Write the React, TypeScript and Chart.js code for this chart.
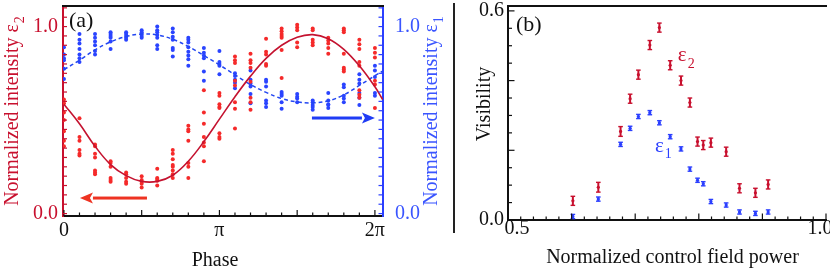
import React, { useEffect, useRef } from 'react';
import { Chart, registerables } from 'chart.js';
Chart.register(...registerables);

const FONT = '"Liberation Serif", "DejaVu Serif", "Times New Roman", serif';

// ---------- Panel (a): normalized intensities vs phase (units of pi) ----------
const phaseSteps = [0, 0.1, 0.2, 0.3, 0.4, 0.5, 0.6, 0.7, 0.8, 0.9, 1.0, 1.1, 1.2, 1.3, 1.4, 1.5, 1.6, 1.7, 1.8, 1.9, 2.0];
const eps2Samples = [
  [0.61, 0.59, 0.54, 0.50, 0.44, 0.39, 0.36],
  [0.51, 0.41, 0.39, 0.34, 0.32, 0.31],
  [0.37, 0.36, 0.32, 0.30, 0.23, 0.22, 0.21],
  [0.28, 0.27, 0.25, 0.19, 0.18, 0.17],
  [0.22, 0.21, 0.19, 0.17, 0.16],
  [0.20, 0.18, 0.17, 0.16, 0.14],
  [0.24, 0.19, 0.185, 0.175, 0.15],
  [0.34, 0.32, 0.29, 0.26, 0.25, 0.23, 0.21, 0.19],
  [0.47, 0.45, 0.44, 0.39, 0.27, 0.25, 0.19],
  [0.66, 0.54, 0.48, 0.41, 0.38, 0.36, 0.28],
  [0.645, 0.63, 0.585, 0.57, 0.565, 0.43, 0.41, 0.40],
  [0.84, 0.82, 0.805, 0.71, 0.685, 0.595, 0.56, 0.455],
  [0.855, 0.82, 0.805, 0.78, 0.705, 0.62, 0.595, 0.555],
  [0.935, 0.865, 0.85, 0.80, 0.79],
  [0.99, 0.975, 0.96, 0.95, 0.94, 0.875, 0.725],
  [1.01, 0.995, 0.98, 0.915, 0.89],
  [0.99, 0.98, 0.93, 0.915, 0.90],
  [0.94, 0.925, 0.91, 0.885, 0.855],
  [0.99, 0.98, 0.97, 0.855, 0.78, 0.77, 0.76],
  [0.93, 0.905, 0.88, 0.81, 0.79, 0.66, 0.635, 0.62],
  [0.885, 0.86, 0.835, 0.71, 0.69, 0.565],
];
const eps1Samples = [
  [0.89, 0.85, 0.83, 0.82, 0.775, 0.72],
  [0.96, 0.93, 0.91, 0.88, 0.85, 0.83, 0.81],
  [0.96, 0.94, 0.92, 0.90, 0.87, 0.85],
  [0.97, 0.96, 0.95, 0.94, 0.92, 0.88],
  [0.97, 0.96, 0.95, 0.94, 0.93],
  [0.98, 0.97, 0.96, 0.95, 0.94],
  [1.00, 0.98, 0.97, 0.955, 0.94, 0.90, 0.88],
  [0.99, 0.97, 0.945, 0.93, 0.885, 0.875, 0.84],
  [0.94, 0.93, 0.915, 0.89, 0.865, 0.845, 0.825, 0.79],
  [0.885, 0.86, 0.845, 0.83, 0.76, 0.71],
  [0.87, 0.81, 0.80, 0.79, 0.745],
  [0.75, 0.735, 0.715, 0.70, 0.67],
  [0.765, 0.715, 0.695, 0.68, 0.64, 0.59],
  [0.715, 0.705, 0.68, 0.605, 0.59, 0.57],
  [0.65, 0.64, 0.63, 0.595, 0.56],
  [0.64, 0.625, 0.615, 0.595],
  [0.605, 0.595, 0.58, 0.57, 0.555],
  [0.645, 0.605, 0.585, 0.58, 0.565],
  [0.69, 0.675, 0.63, 0.615, 0.595],
  [0.745, 0.715, 0.695, 0.645, 0.62, 0.58],
  [0.79, 0.765, 0.73, 0.645, 0.63],
];
const fitPhase = [0, 0.1, 0.2, 0.3, 0.4, 0.5, 0.6, 0.7, 0.8, 0.9, 1.0, 1.1, 1.2, 1.3, 1.4, 1.5, 1.6, 1.7, 1.8, 1.9, 2.0, 2.05];
const eps2Fit = [0.585, 0.48, 0.36, 0.262, 0.203, 0.172, 0.172, 0.205, 0.28, 0.385, 0.505, 0.625, 0.735, 0.83, 0.90, 0.943, 0.957, 0.935, 0.878, 0.79, 0.678, 0.61];
const eps1Fit = [0.77, 0.82, 0.875, 0.918, 0.947, 0.96, 0.955, 0.932, 0.893, 0.845, 0.795, 0.742, 0.69, 0.648, 0.615, 0.597, 0.592, 0.603, 0.635, 0.685, 0.737, 0.762];
const phaseTickValues = [0, 1, 2];
const phaseTickLabels = ['0', 'π', '2π'];
const intensityTickValues = [0, 1];
const intensityTickLabels = ['0.0', '1.0'];
const leftArrow = { fromX: 0.534, toX: 0.103, y: 0.083 };
const rightArrow = { fromX: 1.595, toX: 2.0, y: 0.511 };

// ---------- Panel (b): visibility vs control field power ----------
const controlPower = [0.602, 0.642, 0.677, 0.692, 0.705, 0.723, 0.738, 0.755, 0.772, 0.786, 0.798, 0.807, 0.819, 0.843, 0.864, 0.889, 0.909];
const visEps2 = [0.055, 0.094, 0.254, 0.348, 0.417, 0.502, 0.552, 0.444, 0.40, 0.337, 0.225, 0.215, 0.222, 0.196, 0.091, 0.078, 0.102];
const visEps2Err = [0.013, 0.014, 0.014, 0.013, 0.013, 0.013, 0.013, 0.013, 0.013, 0.013, 0.013, 0.013, 0.013, 0.013, 0.013, 0.013, 0.013];
const visEps1 = [0.010, 0.060, 0.217, 0.263, 0.297, 0.308, 0.279, 0.239, 0.204, 0.146, 0.114, 0.104, 0.053, 0.043, 0.023, 0.019, 0.023];
const visEps1Err = [0.006, 0.006, 0.006, 0.006, 0.006, 0.006, 0.006, 0.006, 0.006, 0.006, 0.006, 0.006, 0.006, 0.006, 0.006, 0.006, 0.006];
const powerTickValues = [0.5, 1.0];
const powerTickLabels = ['0.5', '1.0'];
const visTickValues = [0, 0.6];
const visTickLabels = ['0.0', '0.6'];
const eps2LabelPos = { x: 0.767, y: 0.455 };
const eps1LabelPos = { x: 0.731, y: 0.196 };

const RED_LINE = '#c4122f';
const RED_DOT = '#f52a2a';
const BLUE_LINE = '#2246f2';
const BLUE_DOT = '#2a44ff';
const RED_BAR = '#c8102e';
const BLUE_BAR = '#2b3fff';

function drawSub(ctx: CanvasRenderingContext2D, main: string, sub: string, x: number, y: number, size: number, color: string, align: 'left' | 'center') {
  ctx.save();
  ctx.fillStyle = color;
  ctx.textBaseline = 'alphabetic';
  ctx.textAlign = 'left';
  ctx.font = `${size}px ${FONT}`;
  const w1 = ctx.measureText(main).width;
  const subSize = Math.round(size * 0.68);
  ctx.font = `${subSize}px ${FONT}`;
  const w2 = ctx.measureText(sub).width;
  const total = w1 + 1 + w2;
  const x0 = align === 'left' ? x : x - total / 2;
  ctx.font = `${size}px ${FONT}`;
  ctx.fillText(main, x0, y);
  ctx.font = `${subSize}px ${FONT}`;
  ctx.fillText(sub, x0 + w1 + 1, y + size * 0.3);
  ctx.restore();
}

function line(ctx: CanvasRenderingContext2D, x1: number, y1: number, x2: number, y2: number, color: string, w: number) {
  ctx.save();
  ctx.strokeStyle = color;
  ctx.lineWidth = w;
  ctx.beginPath();
  ctx.moveTo(x1, y1);
  ctx.lineTo(x2, y2);
  ctx.stroke();
  ctx.restore();
}

function arrow(ctx: CanvasRenderingContext2D, x1: number, x2: number, y: number, color: string) {
  const dir = Math.sign(x2 - x1);
  const headLen = 13;
  ctx.save();
  ctx.fillStyle = color;
  ctx.fillRect(Math.min(x1, x2 - dir * headLen), y - 1.5, Math.abs(x2 - dir * headLen - x1), 3);
  ctx.beginPath();
  ctx.moveTo(x2, y);
  ctx.lineTo(x2 - dir * headLen, y - 5.5);
  ctx.lineTo(x2 - dir * (headLen - 3), y);
  ctx.lineTo(x2 - dir * headLen, y + 5.5);
  ctx.closePath();
  ctx.fill();
  ctx.restore();
}

function fixedTicks(values: number[]) {
  return (scale: any) => {
    scale.ticks = values.map((v) => ({ value: v }));
  };
}

function fixSize(size: number) {
  return (s: any) => {
    if (s.isHorizontal()) s.height = size;
    else s.width = size;
    s.paddingTop = 0;
    s.paddingBottom = 0;
    s.paddingLeft = 0;
    s.paddingRight = 0;
  };
}

const panelAPlugin = {
  id: 'panelA',
  afterDraw(chart: any) {
    const { ctx, chartArea: ca, scales } = chart;
    const xs = scales.x, ys = scales.y, ys1 = scales.y1;
    line(ctx, ca.left - 1, ca.top, ca.right + 1, ca.top, '#111', 2);
    for (let k = 0; k <= 20; k++) {
      const px = xs.getPixelForValue(k / 10);
      line(ctx, px, ca.bottom, px, ca.bottom - (k % 5 === 0 ? 6 : 3.5), '#111', 1.2);
    }
    for (let k = 0; k <= 22; k++) {
      const v = k * 0.05;
      if (v > ys.max) break;
      const py = ys.getPixelForValue(v);
      line(ctx, ca.left, py, ca.left + 4, py, RED_BAR, 1.2);
      const py1 = ys1.getPixelForValue(v);
      line(ctx, ca.right, py1, ca.right - 4.5, py1, BLUE_BAR, 1.2);
    }
    arrow(ctx, xs.getPixelForValue(leftArrow.fromX), xs.getPixelForValue(leftArrow.toX), ys.getPixelForValue(leftArrow.y), '#ee3322');
    arrow(ctx, xs.getPixelForValue(rightArrow.fromX), xs.getPixelForValue(rightArrow.toX), ys1.getPixelForValue(rightArrow.y), '#1f3cf5');
    ctx.save();
    ctx.fillStyle = '#111';
    ctx.font = `22px ${FONT}`;
    ctx.textAlign = 'left';
    ctx.textBaseline = 'alphabetic';
    ctx.fillText('(a)', 69, 27);
    ctx.font = `20px ${FONT}`;
    ctx.textAlign = 'center';
    ctx.fillText('Phase', 215, 266);
    ctx.restore();
    const cy = (ca.top + ca.bottom) / 2;
    ctx.save();
    ctx.translate(18, cy);
    ctx.rotate(-Math.PI / 2);
    drawSub(ctx, 'Normalized intensity ε', '2', 0, 0, 20, RED_BAR, 'center');
    ctx.restore();
    ctx.save();
    ctx.translate(437, cy);
    ctx.rotate(-Math.PI / 2);
    drawSub(ctx, 'Normalized intensity ε', '1', 0, 0, 20, '#3a55ff', 'center');
    ctx.restore();
  },
};

const panelBPlugin = {
  id: 'panelB',
  afterDatasetsDraw(chart: any) {
    const { ctx, scales } = chart;
    const xs = scales.x, ys = scales.y;
    const bars = (vals: number[], errs: number[], color: string) => {
      vals.forEach((v, i) => {
        const px = xs.getPixelForValue(controlPower[i]);
        const p1 = ys.getPixelForValue(v - errs[i]);
        const p2 = ys.getPixelForValue(v + errs[i]);
        line(ctx, px, p1, px, p2, color, 2);
        line(ctx, px - 2.3, p1, px + 2.3, p1, color, 1.4);
        line(ctx, px - 2.3, p2, px + 2.3, p2, color, 1.4);
      });
    };
    bars(visEps2, visEps2Err, RED_BAR);
    bars(visEps1, visEps1Err, BLUE_BAR);
  },
  afterDraw(chart: any) {
    const { ctx, chartArea: ca, scales } = chart;
    const xs = scales.x, ys = scales.y;
    line(ctx, ca.left - 1, ca.top, ca.right + 1, ca.top, '#111', 2.2);
    for (let k = 0; k <= 25; k++) {
      const v = 0.5 + k * 0.02;
      const px = xs.getPixelForValue(v);
      line(ctx, px, ca.bottom, px, ca.bottom - (k % 5 === 0 ? 6.5 : 3.5), '#111', 1.2);
    }
    for (let k = 0; k <= 12; k++) {
      const py = ys.getPixelForValue(k * 0.05);
      line(ctx, ca.left, py, ca.left + (k % 4 === 0 ? 6.5 : 4), py, '#111', 1.2);
    }
    ctx.save();
    ctx.fillStyle = '#111';
    ctx.font = `20px ${FONT}`;
    ctx.textBaseline = 'alphabetic';
    ctx.textAlign = 'center';
    const offs = [9, -6];
    powerTickValues.forEach((v, i) => {
      ctx.fillText(powerTickLabels[i], xs.getPixelForValue(v) + offs[i], 234);
    });
    ctx.fillText('Normalized control field power', 232.5, 263);
    ctx.textAlign = 'left';
    ctx.font = `22px ${FONT}`;
    ctx.fillText('(b)', 76, 31);
    ctx.restore();
    ctx.save();
    ctx.translate(50, 104);
    ctx.rotate(-Math.PI / 2);
    ctx.fillStyle = '#111';
    ctx.font = `20px ${FONT}`;
    ctx.textAlign = 'center';
    ctx.fillText('Visibility', 0, 0);
    ctx.restore();
    drawSub(ctx, 'ε', '2', xs.getPixelForValue(eps2LabelPos.x), ys.getPixelForValue(eps2LabelPos.y), 21, RED_BAR, 'left');
    drawSub(ctx, 'ε', '1', xs.getPixelForValue(eps1LabelPos.x), ys.getPixelForValue(eps1LabelPos.y), 21, BLUE_BAR, 'left');
  },
};

function flatten(samples: number[][]) {
  const pts: { x: number; y: number }[] = [];
  samples.forEach((col, i) => col.forEach((y) => pts.push({ x: phaseSteps[i], y })));
  return pts;
}

export default function App() {
  const refA = useRef<HTMLCanvasElement>(null);
  const refB = useRef<HTMLCanvasElement>(null);

  useEffect(() => {
    const tickFont = { family: FONT, size: 20 };
    const chartA = new Chart(refA.current!, {
      type: 'scatter',
      data: {
        datasets: [
          {
            type: 'line', label: 'ε2 fit', yAxisID: 'y', order: 0,
            data: fitPhase.map((x, i) => ({ x, y: eps2Fit[i] })),
            borderColor: RED_LINE, borderWidth: 1.6, pointRadius: 0, tension: 0.4, fill: false,
          } as any,
          {
            type: 'line', label: 'ε1 fit', yAxisID: 'y1', order: 0,
            data: fitPhase.map((x, i) => ({ x, y: eps1Fit[i] })),
            borderColor: BLUE_LINE, borderWidth: 1.5, borderDash: [4, 3], pointRadius: 0, tension: 0.4, fill: false,
          } as any,
          {
            type: 'scatter', label: 'ε2', yAxisID: 'y', order: 1,
            data: flatten(eps2Samples),
            backgroundColor: RED_DOT, borderWidth: 0, pointRadius: 2,
          } as any,
          {
            type: 'scatter', label: 'ε1', yAxisID: 'y1', order: 1,
            data: flatten(eps1Samples),
            backgroundColor: BLUE_DOT, borderWidth: 0, pointRadius: 2,
          } as any,
        ],
      },
      options: {
        animation: false,
        responsive: false,
        events: [],
        layout: { padding: { top: 6, left: 0, right: 0, bottom: 0 } },
        plugins: { legend: { display: false }, tooltip: { enabled: false } },
        scales: {
          x: {
            type: 'linear', min: -0.006, max: 2.052, position: 'bottom',
            grid: { display: false, drawTicks: false },
            border: { display: true, color: '#111', width: 2 },
            afterBuildTicks: fixedTicks(phaseTickValues),
            afterFit: fixSize(58),
            ticks: {
              autoSkip: false, maxRotation: 0, color: '#111', font: tickFont, padding: 3,
              callback: (v: any) => phaseTickLabels[phaseTickValues.indexOf(Number(v))],
            },
          },
          y: {
            type: 'linear', min: -0.013, max: 1.11, position: 'left',
            grid: { display: false, drawTicks: false },
            border: { display: true, color: RED_BAR, width: 2 },
            afterBuildTicks: fixedTicks(intensityTickValues),
            afterFit: fixSize(63),
            ticks: {
              autoSkip: false, color: RED_BAR, font: tickFont, padding: 5,
              callback: (v: any) => intensityTickLabels[intensityTickValues.indexOf(Number(v))],
            },
          },
          y1: {
            type: 'linear', min: -0.013, max: 1.11, position: 'right',
            grid: { display: false, drawTicks: false },
            border: { display: true, color: BLUE_BAR, width: 2 },
            afterBuildTicks: fixedTicks(intensityTickValues),
            afterFit: fixSize(67),
            ticks: {
              autoSkip: false, color: '#3a55ff', font: tickFont, padding: 12,
              callback: (v: any) => intensityTickLabels[intensityTickValues.indexOf(Number(v))],
            },
          },
        },
      } as any,
      plugins: [panelAPlugin],
    });

    const chartB = new Chart(refB.current!, {
      type: 'scatter',
      data: {
        datasets: [
          {
            label: 'ε2', data: controlPower.map((x, i) => ({ x, y: visEps2[i] })),
            backgroundColor: RED_BAR, borderWidth: 0, pointRadius: 1.6,
          },
          {
            label: 'ε1', data: controlPower.map((x, i) => ({ x, y: visEps1[i] })),
            backgroundColor: BLUE_BAR, borderWidth: 0, pointRadius: 1.6,
          },
        ],
      },
      options: {
        animation: false,
        responsive: false,
        events: [],
        layout: { padding: { top: 6, left: 0, right: 0, bottom: 0 } },
        plugins: { legend: { display: false }, tooltip: { enabled: false } },
        scales: {
          x: {
            type: 'linear', min: 0.5, max: 1.0, position: 'bottom',
            grid: { display: false, drawTicks: false },
            border: { display: true, color: '#111', width: 2 },
            afterBuildTicks: fixedTicks(powerTickValues),
            afterFit: fixSize(54),
            ticks: { display: false },
          },
          y: {
            type: 'linear', min: 0, max: 0.614, position: 'left',
            grid: { display: false, drawTicks: false },
            border: { display: true, color: '#111', width: 2 },
            afterBuildTicks: fixedTicks(visTickValues),
            afterFit: fixSize(68),
            ticks: {
              autoSkip: false, color: '#111', font: tickFont, padding: 4,
              callback: (v: any) => visTickLabels[visTickValues.indexOf(Number(v))],
            },
          },
        },
      } as any,
      plugins: [panelBPlugin],
    });

    return () => {
      chartA.destroy();
      chartB.destroy();
    };
  }, []);

  return (
    <div style={{ position: 'fixed', left: 0, top: 0, width: 830, height: 274, background: '#fff', overflow: 'hidden' }}>
      <canvas ref={refA} width={450} height={274} style={{ position: 'absolute', left: 0, top: 0, width: 450, height: 274 }} />
      <div style={{ position: 'absolute', left: 453, top: 3, width: 2, height: 230, background: '#222' }} />
      <canvas ref={refB} width={390} height={274} style={{ position: 'absolute', left: 440, top: 0, width: 390, height: 274 }} />
    </div>
  );
}
